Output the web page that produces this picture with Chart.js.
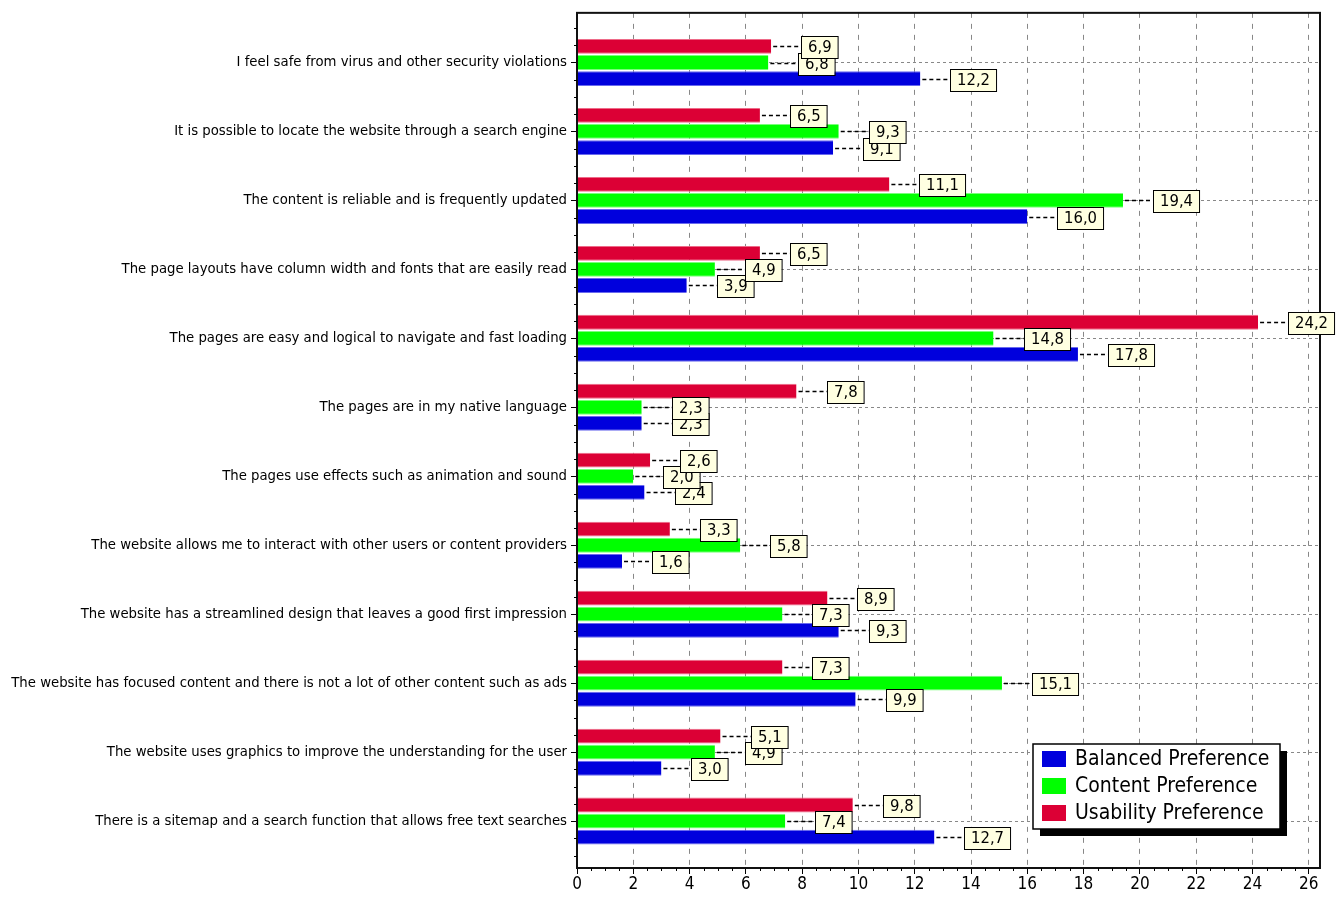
<!doctype html>
<html lang="en">
<head>
    <meta charset="utf-8">
    <title>Website preferences</title>
    <style>
        * {
            margin: 0;
            padding: 0;
        }

        body {
            background: #fff;
        }

        #chart {
            display: block;
        }
    </style>
</head>
<body>
    <canvas id="chart" width="1338" height="897"></canvas>
    <script src="https://cdn.jsdelivr.net/npm/chart.js"></script>
    <script>
        // statements, top to bottom
        const statements = [
            'I feel safe from virus and other security violations',
            'It is possible to locate the website through a search engine',
            'The content is reliable and is frequently updated',
            'The page layouts have column width and fonts that are easily read',
            'The pages are easy and logical to navigate and fast loading',
            'The pages are in my native language',
            'The pages use effects such as animation and sound',
            'The website allows me to interact with other users or content providers',
            'The website has a streamlined design that leaves a good first impression',
            'The website has focused content and there is not a lot of other content such as ads',
            'The website uses graphics to improve the understanding for the user',
            'There is a sitemap and a search function that allows free text searches'
        ]
        const usability = [6.9, 6.5, 11.1, 6.5, 24.2, 7.8, 2.6, 3.3, 8.9, 7.3, 5.1, 9.8]
        const content = [6.8, 9.3, 19.4, 4.9, 14.8, 2.3, 2.0, 5.8, 7.3, 15.1, 4.9, 7.4]
        const balanced = [12.2, 9.1, 16.0, 3.9, 17.8, 2.3, 2.4, 1.6, 9.3, 9.9, 3.0, 12.7]
        const xTicks = [0, 2, 4, 6, 8, 10, 12, 14, 16, 18, 20, 22, 24, 26]

        const FONT = '"DejaVu Sans Condensed", "DejaVu Sans", sans-serif'
        Chart.defaults.font.family = FONT
        Chart.defaults.color = '#000'

        const toPoints = arr => arr.map((v, i) => ({ x: v, y: i }))
        const fmt = v => v.toFixed(1).replace('.', ',')

        // black frame round the plot area
        const frame = {
            id: 'frame',
            afterDatasetsDraw(chart) {
                const { ctx, chartArea: { left, right, top, bottom } } = chart
                ctx.save()
                ctx.strokeStyle = '#111'
                ctx.lineWidth = 2
                ctx.strokeRect(left, top, right - left, bottom - top)
                ctx.restore()
            }
        }

        // small ticks between the major ones
        const minorTicks = {
            id: 'minorTicks',
            afterDatasetsDraw(chart) {
                const { ctx, chartArea: { left, bottom }, scales: { x, y } } = chart
                ctx.save()
                ctx.strokeStyle = '#000'
                ctx.lineWidth = 1
                ctx.beginPath()
                for (let v = 0.5; v < 26.4; v += 0.5) {
                    if (v % 2 === 0) continue
                    const px = Math.round(x.getPixelForValue(v)) + 0.5
                    ctx.moveTo(px, bottom)
                    ctx.lineTo(px, bottom + 3)
                }
                for (let v = -0.5; v <= 11.5; v += 0.25) {
                    if (Number.isInteger(v)) continue
                    const py = Math.round(y.getPixelForValue(v)) + 0.5
                    ctx.moveTo(left - 3, py)
                    ctx.lineTo(left, py)
                }
                ctx.stroke()
                ctx.restore()
            }
        }

        // value boxes with dashed leaders, blue first so red ends up on top
        const valueBoxes = {
            id: 'valueBoxes',
            afterDatasetsDraw(chart) {
                const { ctx } = chart
                ctx.save()
                ctx.font = '16.5px ' + FONT
                ctx.textAlign = 'center'
                ctx.textBaseline = 'middle'
                for (let d = chart.data.datasets.length - 1; d >= 0; d--) {
                    const meta = chart.getDatasetMeta(d)
                    meta.data.forEach((bar, i) => {
                        const text = fmt(chart.data.datasets[d].data[i].x)
                        const w = ctx.measureText(text).width + 13
                        const h = 22
                        const bx = Math.round(bar.x + 30)
                        const by = Math.round(bar.y + 1 - h / 2)
                        const ly = Math.round(bar.y) + 0.5
                        ctx.strokeStyle = '#000'
                        ctx.lineWidth = 1.5
                        ctx.setLineDash([4, 3])
                        ctx.beginPath()
                        ctx.moveTo(bar.x + 2, ly)
                        ctx.lineTo(bx, ly)
                        ctx.stroke()
                        ctx.setLineDash([])
                        ctx.lineWidth = 1
                        ctx.fillStyle = '#FFFFE1'
                        ctx.fillRect(bx, by, w, h)
                        ctx.strokeRect(bx + 0.5, by + 0.5, w, h)
                        ctx.fillStyle = '#000'
                        ctx.fillText(text, bx + w / 2 + 0.5, by + h / 2 + 1)
                    })
                }
                ctx.restore()
            }
        }

        // legend box with drop shadow in the lower right corner
        const legendBox = {
            id: 'legendBox',
            afterDatasetsDraw(chart) {
                const { ctx, chartArea: { right, bottom } } = chart
                const w = 247, h = 85
                const lx = right - 40 - w, ly = bottom - 39 - h
                ctx.save()
                ctx.fillStyle = '#000'
                ctx.fillRect(lx + 7, ly + 7, w, h)
                ctx.fillStyle = '#fff'
                ctx.fillRect(lx, ly, w, h)
                ctx.strokeStyle = '#000'
                ctx.lineWidth = 1.5
                ctx.strokeRect(lx, ly, w, h)
                ctx.font = '21px ' + FONT
                ctx.textBaseline = 'middle'
                const items = chart.data.datasets.slice().reverse()
                items.forEach((ds, i) => {
                    const cy = ly + 15 + i * 27
                    ctx.fillStyle = ds.backgroundColor
                    ctx.fillRect(lx + 9, cy - 8, 24, 16)
                    ctx.fillStyle = '#000'
                    ctx.fillText(ds.label, lx + 42, cy + 1)
                })
                ctx.restore()
            }
        }

        const config = {
            type: 'bar',
            data: {
                datasets: [
                    { label: 'Usability Preference', data: toPoints(usability), backgroundColor: '#DC0035', borderColor: '#EE6A88' },
                    { label: 'Content Preference', data: toPoints(content), backgroundColor: '#00FF00', borderColor: '#7AFF7A' },
                    { label: 'Balanced Preference', data: toPoints(balanced), backgroundColor: '#0000DD', borderColor: '#6A6AEE' }
                ]
            },
            options: {
                indexAxis: 'y',
                responsive: false,
                animation: false,
                datasets: {
                    bar: {
                        categoryPercentage: 0.7,
                        barPercentage: 0.92,
                        borderWidth: { top: 1, bottom: 1, left: 0, right: 0 }
                    }
                },
                layout: {
                    padding: { top: 10, right: 18, left: 0, bottom: 0 }
                },
                plugins: {
                    legend: { display: false },
                    tooltip: { enabled: false }
                },
                scales: {
                    x: {
                        type: 'linear',
                        min: 0,
                        max: 26.4,
                        afterBuildTicks: s => { s.ticks = xTicks.map(v => ({ value: v })) },
                        afterFit: s => { s.height = 29 },
                        grid: { color: '#888', tickColor: '#000', tickLength: 6, tickBorderDash: [] },
                        border: { display: false, dash: [5, 6] },
                        ticks: { font: { size: 17 }, padding: 0, maxRotation: 0 }
                    },
                    y: {
                        type: 'linear',
                        min: -0.72,
                        max: 11.68,
                        reverse: true,
                        offset: false,
                        afterBuildTicks: s => { s.ticks = statements.map((_, i) => ({ value: i })) },
                        afterFit: s => { s.width = 577 },
                        grid: { offset: false, color: '#888', tickColor: '#000', tickLength: 6, tickBorderDash: [] },
                        border: { display: false, dash: [3, 3] },
                        ticks: {
                            callback: v => statements[v],
                            font: { size: 14.75 },
                            padding: 4,
                            autoSkip: false
                        }
                    }
                }
            },
            plugins: [frame, minorTicks, valueBoxes, legendBox]
        }

        const myChart = new Chart(document.getElementById('chart'), config)
    </script>
</body>
</html>
